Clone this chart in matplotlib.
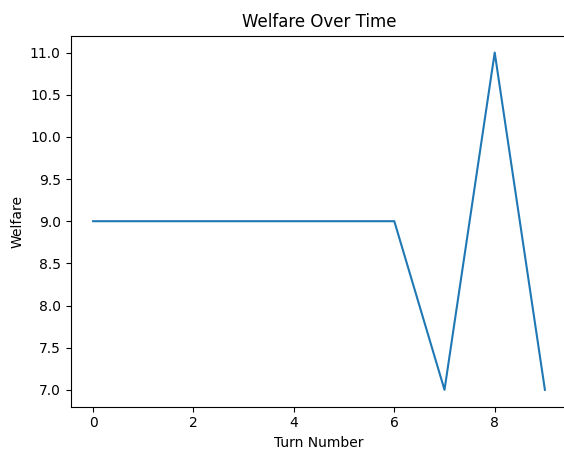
import matplotlib
matplotlib.use("Agg")
import matplotlib.pyplot as plt

turns = [0, 1, 2, 3, 4, 5, 6, 7, 8, 9]
welfare = [9, 9, 9, 9, 9, 9, 9, 7, 11, 7]

fig = plt.figure(figsize=(5.64, 4.51), dpi=100)
ax = fig.add_axes([70.5/564, 1-406.7/451, (567.5-70.5)/564, (406.7-35.7)/451])
ax.plot(turns, welfare)
ax.set_title("Welfare Over Time")
ax.set_xlabel("Turn Number")
ax.set_ylabel("Welfare")
fig.savefig("out.png", dpi=100)
